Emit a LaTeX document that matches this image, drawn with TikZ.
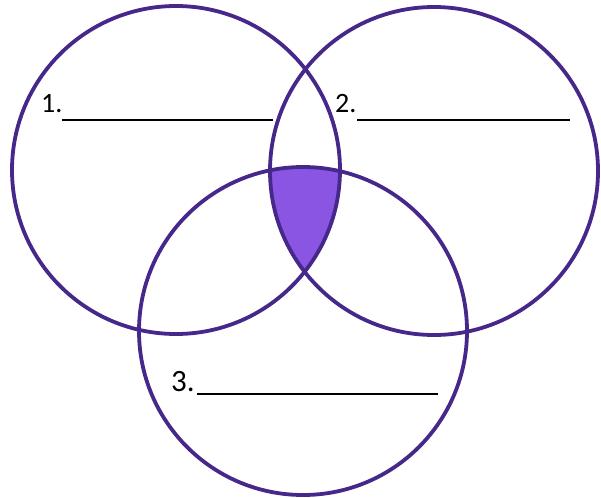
\documentclass[tikz,border=0pt]{standalone}
\usepackage{fontspec}
\setmainfont{Carlito}
\definecolor{ring}{HTML}{46288A}
\definecolor{core}{HTML}{8A55E2}
\begin{document}
\begin{tikzpicture}[x=1pt,y=-1pt,
  ring/.style={draw=ring,line width=3.8pt},
  blank/.style={draw=black,line width=1.8pt},
  lab/.style={anchor=base west,inner sep=0pt,font=\fontsize{28}{28}\selectfont}]
\useasboundingbox (0,0) rectangle (601,497);
\coordinate (c1) at (176,170);
\coordinate (c2) at (434,171);
\coordinate (c3) at (303,331);
\begin{scope}
  \clip (c1) circle (164);
  \clip (c2) circle (164);
  \fill[core] (c3) circle (164);
\end{scope}
\draw[ring] (c1) circle (164);
\draw[ring] (c2) circle (164);
\draw[ring] (c3) circle (164);
\node[lab] (t1) at (41,113) {1.};
\coordinate (a1) at (62,120); \coordinate (b1) at (273,120);
\draw[blank] (a1) -- (b1);
\node[lab] (t2) at (335,113) {2.};
\coordinate (a2) at (357,120); \coordinate (b2) at (570,120);
\draw[blank] (a2) -- (b2);
\node[lab,font=\fontsize{31}{31}\selectfont] (t3) at (171,391) {3.};
\coordinate (a3) at (197,394); \coordinate (b3) at (438,394);
\draw[blank] (a3) -- (b3);
\end{tikzpicture}
\end{document}
